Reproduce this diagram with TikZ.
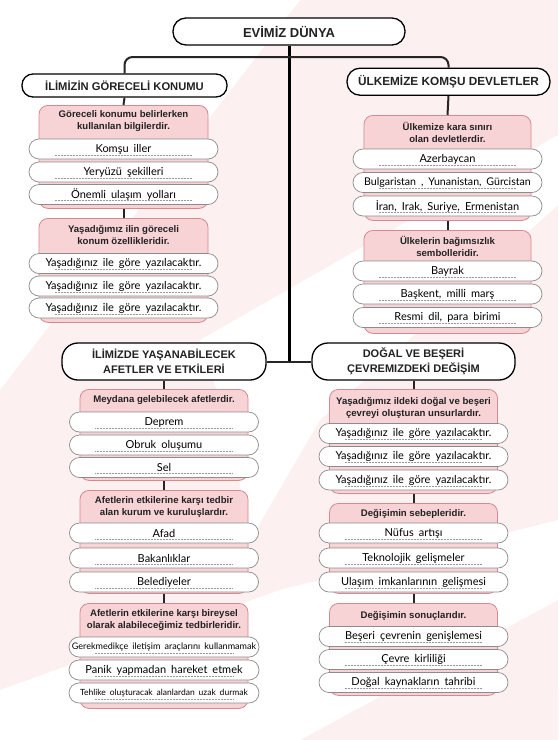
\documentclass[tikz,border=0pt]{standalone}
\usepackage{fontspec}
\setmainfont{Liberation Sans}
\newfontfamily\handfont[WordSpace=1.8]{Lato}
\definecolor{bgpink}{HTML}{FDF0F1}
\definecolor{pinkfill}{HTML}{F8D3D6}
\definecolor{pinkline}{HTML}{D98890}
\definecolor{pillline}{HTML}{8C8C8C}
\definecolor{txt}{HTML}{222222}
\tikzset{
  mainbox/.style={draw=black, line width=1.3pt, fill=white, align=center, inner sep=0pt, text=txt, font=\bfseries},
  pinkbox/.style={draw=pinkline, fill=pinkfill, line width=0.8pt, rounded corners=9pt, inner sep=0pt},
  phead/.style={align=center, inner sep=0pt, text=txt, font=\bfseries\fontsize{9.6}{12}\selectfont},
  pill/.style={draw=pillline, fill=white, line width=0.7pt, rounded corners=10pt, minimum width=189pt, minimum height=20pt, inner sep=0pt, text=black, font=\handfont\fontsize{11}{11}\selectfont},
  dotl/.style={draw=gray!80, line width=0.5pt, dash pattern=on 0.6pt off 0.9pt},
  trunk/.style={draw=black, line width=3pt},
  conn/.style={draw=black!85, line width=2pt},
}
\newcommand\mypill[4][]{%
  \node[pill,#1] (#2) at (#3) {#4};
  \draw[dotl] ([xshift=26pt,yshift=4.5pt]#2.south west) -- ([xshift=-26pt,yshift=4.5pt]#2.south east);}
\begin{document}
\begin{tikzpicture}[x=1pt,y=-1pt]
\useasboundingbox (0,0) rectangle (558,740);
% background
\fill[bgpink] (0,0) rectangle (558,740);
\fill[white] (0,0) -- (300,0) -- (0,390) -- cycle;
\fill[white] (200,340) -- (558,135) -- (558,205) -- (320,420) -- (250,540) -- (230,430) -- cycle;
\fill[white] (0,690) -- (280,590) -- (558,520) -- (558,600) -- (300,740) -- (0,740) -- cycle;
\fill[bgpink] (460,740) -- (558,690) -- (558,740) -- cycle;

% main boxes
\node[mainbox, minimum width=232pt, minimum height=27pt, rounded corners=13pt, font=\bfseries\fontsize{13}{13}\selectfont] (title) at (289,31.5) {EVİMİZ DÜNYA};
\node[mainbox, minimum width=205pt, minimum height=23pt, rounded corners=11pt, font=\bfseries\fontsize{11.2}{11.2}\selectfont] (L1) at (124.5,85.5) {İLİMİZİN GÖRECELİ KONUMU};
\node[mainbox, minimum width=203pt, minimum height=27pt, rounded corners=13pt, font=\bfseries\fontsize{11.8}{11.8}\selectfont] (R1) at (448.5,81.7) {ÜLKEMİZE KOMŞU DEVLETLER};
\node[mainbox, minimum width=204pt, minimum height=37pt, rounded corners=16pt, font=\bfseries\fontsize{11}{15.5}\selectfont] (L2) at (164,361.5) {İLİMİZDE YAŞANABİLECEK\\AFETLER VE ETKİLERİ};
\node[mainbox, minimum width=203pt, minimum height=37pt, rounded corners=16pt, font=\bfseries\fontsize{11}{15.5}\selectfont] (R2) at (413.5,361.5) {DOĞAL VE BEŞERİ\\ÇEVREMIZDEKİ DEĞİŞİM};

% pink boxes
\node[pinkbox, minimum width=169pt, minimum height=103pt, anchor=north] (lb1) at (123.5,105) {};
\node[pinkbox, minimum width=169pt, minimum height=104pt, anchor=north] (lb2) at (123.5,218) {};
\node[pinkbox, minimum width=168pt, minimum height=91pt, anchor=north] (lb3) at (164,389) {};
\node[pinkbox, minimum width=168pt, minimum height=103pt, anchor=north] (lb4) at (164,490) {};
\node[pinkbox, minimum width=168pt, minimum height=105pt, anchor=north] (lb5) at (164,603) {};
\node[pinkbox, minimum width=167pt, minimum height=105pt, anchor=north] (rb1) at (447.5,115) {};
\node[pinkbox, minimum width=167pt, minimum height=103pt, anchor=north] (rb2) at (447.5,230) {};
\node[pinkbox, minimum width=168pt, minimum height=104pt, anchor=north] (rb3) at (413.5,389) {};
\node[pinkbox, minimum width=168pt, minimum height=90pt, anchor=north] (rb4) at (413.5,503) {};
\node[pinkbox, minimum width=168pt, minimum height=92pt, anchor=north] (rb5) at (413.5,603) {};

% connectors
\draw[trunk] (title.south) -- (title.south |- L2.east);
\draw[conn] (L2.east) -- (R2.west);
\draw[conn, rounded corners=8pt] (L1.north) -- (L1.north |- 0,57) -- (R1.north |- 0,57) -- (R1.north);
\draw[conn] (L1.south) -- (lb1.north);
\draw[conn] (lb1.south) -- (lb2.north);
\draw[conn] (R1.south) -- (rb1.north);
\draw[conn] (rb1.south) -- (rb2.north);
\draw[conn] (L2.south) -- (lb3.north);
\draw[conn] (lb3.south) -- (lb4.north);
\draw[conn] (lb4.south) -- (lb5.north);
\draw[conn] (R2.south) -- (rb3.north);
\draw[conn] (rb3.south) -- (rb4.north);
\draw[conn] (rb4.south) -- (rb5.north);

% headers
\node[phead] (lb1h) at (123.5,121.5) {Göreceli konumu belirlerken\\kullanılan bilgilerdir.};
\node[phead] (lb2h) at (123.5,235) {Yaşadığımız ilin göreceli\\konum özellikleridir.};
\node[phead] (lb3h) at (164,400.5) {Meydana gelebilecek afetlerdir.};
\node[phead] (lb4h) at (164,507.5) {Afetlerin etkilerine karşı tedbir\\alan kurum ve kuruluşlardır.};
\node[phead] (lb5h) at (164,620.5) {Afetlerin etkilerine karşı bireysel\\olarak alabileceğimiz tedbirleridir.};
\node[phead] (rb1h) at (447.5,132.5) {Ülkemize kara sınırı\\olan devletlerdir.};
\node[phead] (rb2h) at (447.5,246) {Ülkelerin bağımsızlık\\sembolleridir.};
\node[phead] (rb3h) at (413.5,407.5) {Yaşadığımız ildeki doğal ve beşeri\\çevreyi oluşturan unsurlardır.};
\node[phead] (rb4h) at (413.5,513.5) {Değişimin sebepleridir.};
\node[phead] (rb5h) at (413.5,615.5) {Değişimin sonuçlarıdır.};

% pills left
\mypill{p1a}{123.5,149}{Komşu iller}
\mypill{p1b}{123.5,172}{Yeryüzü şekilleri}
\mypill{p1c}{123.5,194.5}{Önemli ulaşım yolları}
\mypill{p2a}{123.5,263.5}{Yaşadığınız ile göre yazılacaktır.}
\mypill{p2b}{123.5,286}{Yaşadığınız ile göre yazılacaktır.}
\mypill{p2c}{123.5,308}{Yaşadığınız ile göre yazılacaktır.}
\mypill{p3a}{164,422}{Deprem}
\mypill{p3b}{164,445}{Obruk oluşumu}
\mypill{p3c}{164,467.5}{Sel}
\mypill{p4a}{164,533}{Afad}
\mypill{p4b}{164,558}{Bakanlıklar}
\mypill{p4c}{164,582}{Belediyeler}
\mypill[minimum width=190pt, font=\handfont\fontsize{9}{9}\selectfont]{p5a}{164,647}{Gerekmedikçe iletişim araçlarını kullanmamak}
\mypill[minimum width=190pt]{p5b}{164,670}{Panik yapmadan hareket etmek}
\mypill[minimum width=190pt, font=\handfont\fontsize{8.5}{8.5}\selectfont]{p5c}{164,693}{Tehlike oluşturacak alanlardan uzak durmak}
% pills right
\mypill{q1a}{447.5,159}{Azerbaycan}
\mypill[font=\handfont\fontsize{10.6}{10.6}\selectfont]{q1b}{447.5,182.5}{Bulgaristan , Yunanistan, Gürcistan}
\mypill{q1c}{447.5,206}{İran, Irak, Suriye, Ermenistan}
\mypill{q2a}{447.5,271}{Bayrak}
\mypill{q2b}{447.5,294}{Başkent, milli marş}
\mypill{q2c}{447.5,317.5}{Resmi dil, para birimi}
\mypill{q3a}{413.5,433.5}{Yaşadığınız ile göre yazılacaktır.}
\mypill{q3b}{413.5,456.5}{Yaşadığınız ile göre yazılacaktır.}
\mypill{q3c}{413.5,480}{Yaşadığınız ile göre yazılacaktır.}
\mypill{q4a}{413.5,533}{Nüfus artışı}
\mypill{q4b}{413.5,558}{Teknolojik gelişmeler}
\mypill{q4c}{413.5,582}{Ulaşım imkanlarının gelişmesi}
\mypill{q5a}{413.5,636.5}{Beşeri çevrenin genişlemesi}
\mypill{q5b}{413.5,659.5}{Çevre kirliliği}
\mypill{q5c}{413.5,682.5}{Doğal kaynakların tahribi}
\end{tikzpicture}
\end{document}
